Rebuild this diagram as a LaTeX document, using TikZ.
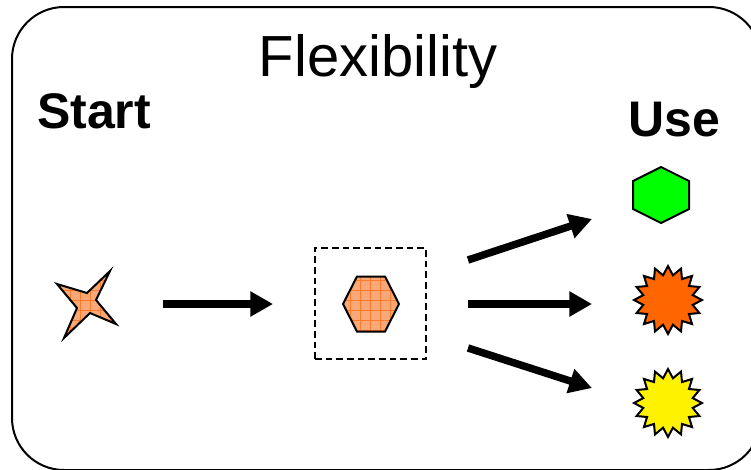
\documentclass[tikz,border=0pt]{standalone}
\usepackage{fontspec}
\setmainfont{Liberation Sans}
\usetikzlibrary{arrows.meta,shapes.geometric}
\definecolor{peach}{HTML}{F9A878}
\definecolor{gridorange}{HTML}{FF7A2A}
\definecolor{burstorange}{HTML}{FF6600}
\definecolor{leafgreen}{HTML}{00FF00}
\tikzset{
  frame/.style={draw=black, line width=1.5pt, rounded corners=39pt},
  outline/.style={draw=black, line width=1.5pt, line join=miter},
  bigarrow/.style={line width=5.6pt, -{Triangle[length=17pt,width=18pt]}},
  burst/.style={star, star points=16, star point ratio=1.35, minimum size=51pt,
    inner sep=0pt, draw=black, line width=1.5pt},
  heading/.style={font=\fontsize{43.5}{50}\selectfont},
  label/.style={font=\bfseries\fontsize{37.5}{44}\selectfont},
}
\begin{document}
\begin{tikzpicture}[x=0.75pt,y=-0.75pt]
  \clip (0,0) rectangle (751,469);
  \fill[white] (0,0) rectangle (751,469);

  % outer rounded frame (runs past the right and bottom edges)
  \draw[frame] (12,7) rectangle (761,470);

  % titles
  \node[heading, anchor=base] (title) at (378,76) {Flexibility};
  \node[label, anchor=base] (start) at (94,128) {Start};
  \node[label, anchor=base] (use) at (674,136) {Use};

  % raw material: four-pointed star with a grid fill
  \coordinate (raw) at (88,304);
  \begin{scope}
    \path[clip] (110,271) -- (87,293) -- (57,284) -- (77,308) -- (64,338)
      -- (90,313) -- (116,324) -- (96,300) -- cycle;
    \fill[peach] (50,265) rectangle (120,345);
    \draw[gridorange, line width=0.5pt, step=7.5pt] (50,265) grid (120,345);
  \end{scope}
  \draw[outline] (110,271) -- (87,293) -- (57,284) -- (77,308) -- (64,338)
    -- (90,313) -- (116,324) -- (96,300) -- cycle;

  % intermediate form: hexagon with a grid fill in a dashed box
  \node[draw=black, dash pattern=on 5pt off 3pt, line width=1.3pt,
    minimum width=83.25pt, minimum height=83.25pt, inner sep=0pt]
    (box) at (370.5,303.5) {};
  \coordinate (mid) at (371,304);
  \begin{scope}
    \path[clip] (343,304) -- (357,276.5) -- (385,276.5) -- (399,304)
      -- (385,331.5) -- (357,331.5) -- cycle;
    \fill[peach] (340,270) rectangle (402,336);
    \draw[gridorange, line width=0.5pt, step=7.5pt] (340,270) grid (402,336);
  \end{scope}
  \draw[outline] (343,304) -- (357,276.5) -- (385,276.5) -- (399,304)
    -- (385,331.5) -- (357,331.5) -- cycle;

  % end uses
  \coordinate (useA) at (661,195);
  \draw[outline, fill=leafgreen] (661,167) -- (689,181) -- (689,209)
    -- (661,223) -- (633,209) -- (633,181) -- cycle;
  \node[burst, fill=burstorange] (useB) at (668,300) {};
  \node[burst, fill=yellow] (useC) at (668,403) {};

  % arrow end points
  \coordinate (a0) at (163,304);
  \coordinate (a1) at (273,304);
  \coordinate (b0) at (468,260);
  \coordinate (b1) at (592,219);
  \coordinate (c0) at (468,304);
  \coordinate (c1) at (592,304);
  \coordinate (d0) at (468,348);
  \coordinate (d1) at (592,388);

  \draw[bigarrow] (a0) -- (a1);
  \draw[bigarrow] (b0) -- (b1);
  \draw[bigarrow] (c0) -- (c1);
  \draw[bigarrow] (d0) -- (d1);
\end{tikzpicture}
\end{document}
